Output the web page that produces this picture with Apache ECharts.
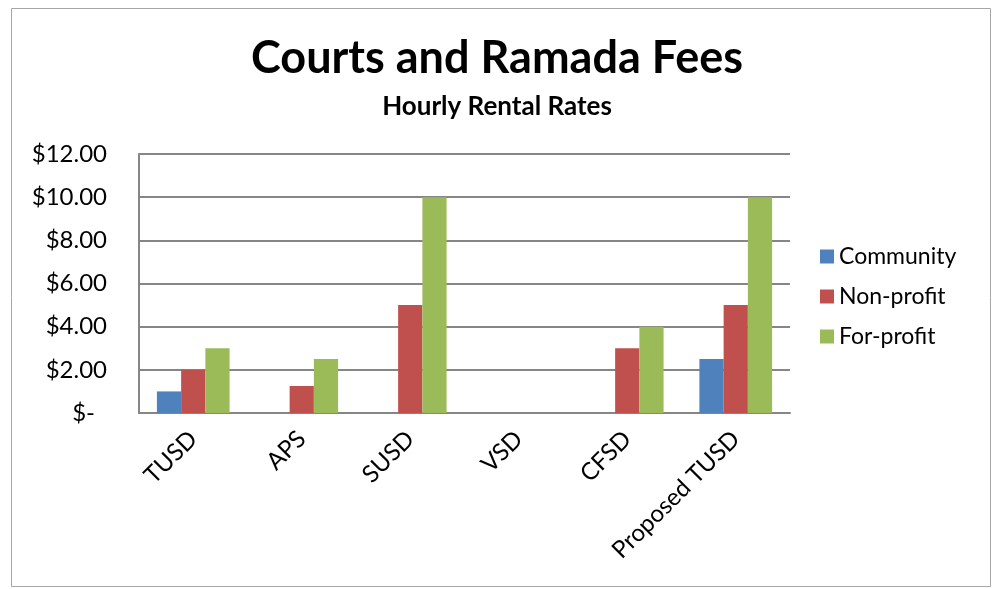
<!DOCTYPE html>
<html>
<head>
<meta charset="utf-8">
<script src="https://cdn.jsdelivr.net/npm/echarts@6/dist/echarts.min.js"></script>
<style>
  html, body { margin: 0; padding: 0; background: #fff; }
  #chart { width: 994px; height: 589px; }
</style>
</head>
<body>
<div id="chart"></div>
<script>
// chart data
const categories = ['TUSD', 'APS', 'SUSD', 'VSD', 'CFSD', 'Proposed TUSD'];
const community = [1, null, null, null, null, 2.5];
const nonProfit = [2, 1.25, 5, null, 3, 5];
const forProfit = [3, 2.5, 10, null, 4, 10];
const seriesNames = ['Community', 'Non-profit', 'For-profit'];

const font = 'Lato, "Open Sans", sans-serif';
const chart = echarts.init(document.getElementById('chart'));

const option = {
    backgroundColor: '#fff',
    animation: false,
    textStyle: { fontFamily: font },
    title: [
        {
            text: 'Courts and Ramada Fees',
            left: 'center',
            top: 31,
            textStyle: { fontSize: 45, fontWeight: 'bold', color: '#000', fontFamily: font }
        },
        {
            text: 'Hourly Rental Rates',
            left: 'center',
            top: 89,
            textStyle: { fontSize: 26, fontWeight: 'bold', color: '#000', fontFamily: font }
        }
    ],
    graphic: [{
        type: 'rect',
        shape: { x: 11.5, y: 8.5, width: 979, height: 578 },
        style: { fill: 'none', stroke: '#a6a6a6', lineWidth: 1 }
    }],
    legend: {
        orient: 'vertical',
        left: 815,
        top: 240,
        itemWidth: 14,
        itemHeight: 14,
        itemGap: 17,
        icon: 'rect',
        textStyle: { fontSize: 23, color: '#000', fontFamily: font },
        data: seriesNames
    },
    grid: { left: 139, right: 204, top: 154, bottom: 176 },
    xAxis: {
        type: 'category',
        data: categories,
        axisLine: { lineStyle: { color: '#868686', width: 2 } },
        axisTick: { show: false },
        axisLabel: { rotate: 45, fontSize: 24, color: '#000', margin: 22, interval: 0 }
    },
    yAxis: {
        type: 'value',
        min: 0,
        max: 12,
        interval: 2,
        axisLine: { show: true, lineStyle: { color: '#868686', width: 2 } },
        axisTick: { show: false },
        splitLine: { lineStyle: { color: '#868686', width: 2 } },
        axisLabel: {
            fontSize: 24,
            color: '#000',
            margin: 32,
            formatter: function (v) {
                return v === 0 ? '{z|$-}' : '$' + v.toFixed(2);
            },
            rich: { z: { fontSize: 24, color: '#000', padding: [0, 12, 0, 0] } }
        }
    },
    series: [
        { name: seriesNames[0], type: 'bar', data: community, itemStyle: { color: '#4f81bd' }, barGap: '0%', barCategoryGap: '33%' },
        { name: seriesNames[1], type: 'bar', data: nonProfit, itemStyle: { color: '#c0504d' }, barGap: '0%', barCategoryGap: '33%' },
        { name: seriesNames[2], type: 'bar', data: forProfit, itemStyle: { color: '#9bbb59' }, barGap: '0%', barCategoryGap: '33%' }
    ]
};

chart.setOption(option);
</script>
</body>
</html>
